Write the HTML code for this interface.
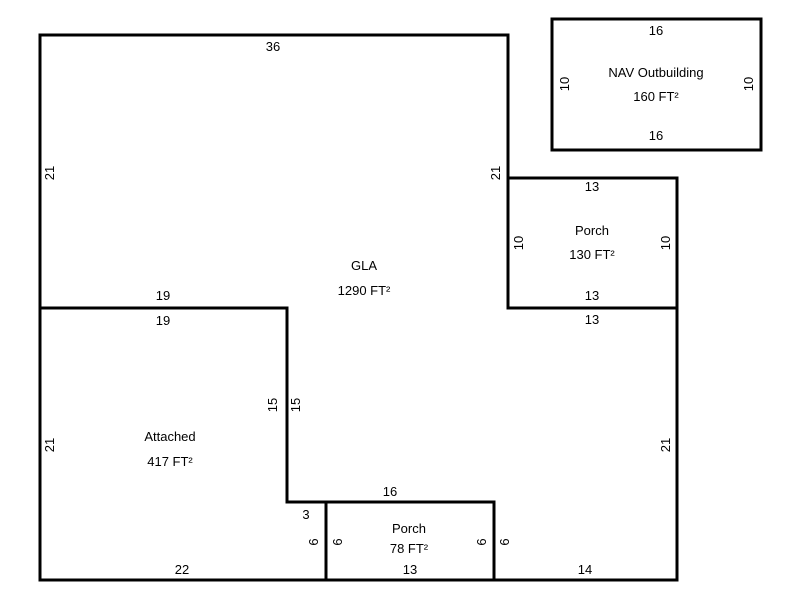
<!DOCTYPE html>
<html><head><style>body{margin:0;background:#fff}svg{display:block}text{font-family:"Liberation Sans",Arial,sans-serif;font-size:13px;fill:#000}</style></head>
<body>
<svg width="800" height="600" viewBox="0 0 800 600" xmlns="http://www.w3.org/2000/svg">
<g stroke="#000" stroke-width="3" fill="none" stroke-linecap="square">
<polyline points="40,35 508,35 508,308 677,308 677,580 40,580 40,35"/>
<rect x="508" y="178" width="169" height="130"/>
<rect x="552" y="19" width="209" height="131"/>
<polyline points="40,308 287,308 287,502 494,502 494,580"/>
<line x1="326" y1="502" x2="326" y2="580"/>
</g>
<g text-anchor="middle">
<text x="273" y="51">36</text>
<text x="364" y="270">GLA</text>
<text x="364" y="295">1290 FT²</text>
<text x="163" y="300">19</text>
<text x="163" y="325">19</text>
<text x="170" y="441">Attached</text>
<text x="170" y="466">417 FT²</text>
<text x="390" y="496">16</text>
<text x="306" y="519">3</text>
<text x="409" y="533">Porch</text>
<text x="409" y="553">78 FT²</text>
<text x="410" y="574">13</text>
<text x="182" y="574">22</text>
<text x="585" y="574">14</text>
<text x="592" y="191">13</text>
<text x="592" y="235">Porch</text>
<text x="592" y="259">130 FT²</text>
<text x="592" y="300">13</text>
<text x="592" y="324">13</text>
<text x="656" y="35">16</text>
<text x="656" y="77">NAV Outbuilding</text>
<text x="656" y="101">160 FT²</text>
<text x="656" y="140">16</text>
</g>
<g text-anchor="middle">
<text transform="translate(54,173) rotate(-90)">21</text>
<text transform="translate(54,445) rotate(-90)">21</text>
<text transform="translate(500,173) rotate(-90)">21</text>
<text transform="translate(523,243) rotate(-90)">10</text>
<text transform="translate(670,243) rotate(-90)">10</text>
<text transform="translate(569,84) rotate(-90)">10</text>
<text transform="translate(753,84) rotate(-90)">10</text>
<text transform="translate(277,405) rotate(-90)">15</text>
<text transform="translate(300,405) rotate(-90)">15</text>
<text transform="translate(670,445) rotate(-90)">21</text>
<text transform="translate(318,542) rotate(-90)">6</text>
<text transform="translate(342,542) rotate(-90)">6</text>
<text transform="translate(486,542) rotate(-90)">6</text>
<text transform="translate(509,542) rotate(-90)">6</text>
</g>
</svg>
</body></html>
